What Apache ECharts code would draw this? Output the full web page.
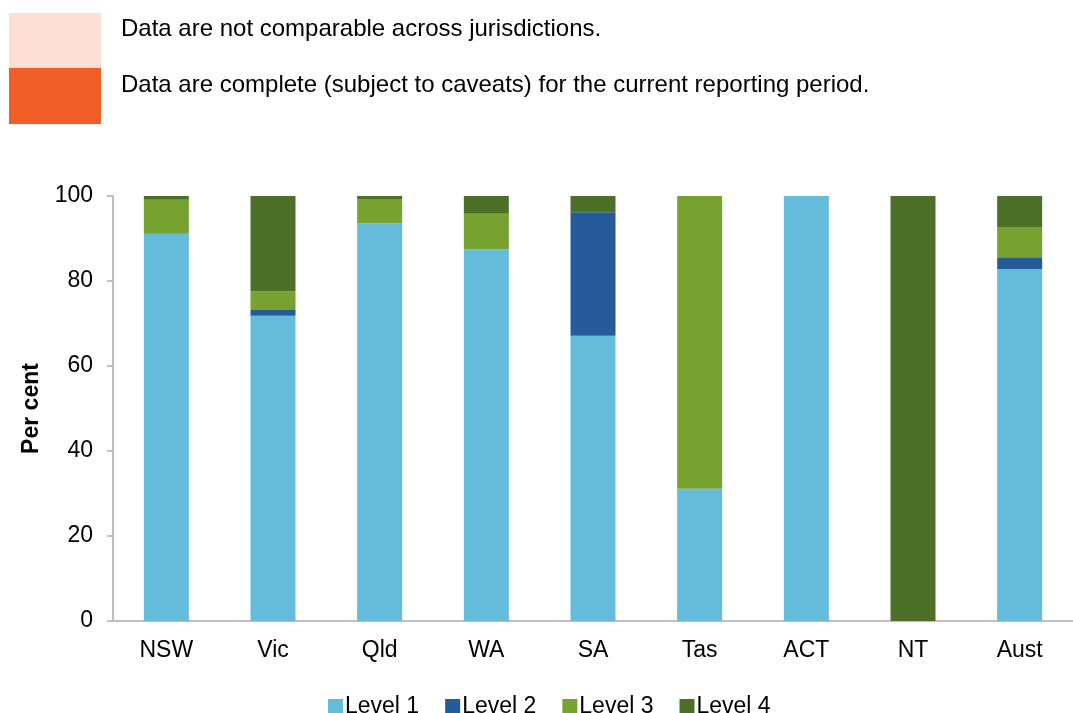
<!DOCTYPE html>
<html>
<head>
<meta charset="utf-8">
<script src="https://cdn.jsdelivr.net/npm/echarts@6/dist/echarts.min.js"></script>
<style>
html,body{margin:0;padding:0;background:#fff;}
#chart{width:1073px;height:713px;}
</style>
</head>
<body>
<div id="chart"></div>
<script>
var categories = ['NSW','Vic','Qld','WA','SA','Tas','ACT','NT','Aust'];
var level1 = [91.1, 71.8, 93.6, 87.5, 67.1, 31.1, 100, 0, 82.8];
var level2 = [0, 1.4, 0, 0, 29.1, 0, 0, 0, 2.8];
var level3 = [8.0, 4.4, 5.7, 8.3, 0, 68.9, 0, 0, 7.1];
var level4 = [0.9, 22.4, 0.7, 4.2, 3.8, 0, 0, 100, 7.3];
var yTicks = [0, 20, 40, 60, 80, 100];
var seriesNames = ['Level 1','Level 2','Level 3','Level 4'];
var noteTexts = ['Data are not comparable across jurisdictions.','Data are complete (subject to caveats) for the current reporting period.'];

var colors = ['#64BBDA','#265B9A','#78A22F','#4C7028'];
var font = 'Liberation Sans, Arial, sans-serif';
var chart = echarts.init(document.getElementById('chart'));
var data = [level1, level2, level3, level4];
var series = seriesNames.map(function(n,i){
  return {name:n,type:'bar',stack:'s',barWidth:45,data:data[i],
    itemStyle:{color:colors[i]},emphasis:{disabled:true}};
});
chart.setOption({
  animation:false,
  color:colors,
  grid:{left:113,top:196,bottom:92,width:970},
  xAxis:{type:'category',data:categories,
    axisLine:{show:true,lineStyle:{color:'#BFBFBF',width:2}},
    axisTick:{show:false},
    axisLabel:{color:'#000',fontSize:23,fontFamily:font,margin:18}},
  yAxis:{type:'value',min:yTicks[0],max:yTicks[yTicks.length-1],interval:20,
    name:'Per cent',nameLocation:'middle',nameGap:70,
    nameTextStyle:{color:'#000',fontSize:23,fontWeight:'bold',fontFamily:font},
    axisLine:{show:true,lineStyle:{color:'#BFBFBF',width:2}},
    axisTick:{show:true,length:6,lineStyle:{color:'#BFBFBF',width:2}},
    splitLine:{show:false},
    axisLabel:{color:'#000',fontSize:23,fontFamily:font,margin:20}},
  legend:{bottom:-10,left:323,itemWidth:15,itemHeight:15,itemGap:26,
    icon:'rect',data:seriesNames,
    textStyle:{color:'#000',fontSize:23,fontFamily:font,padding:[0,0,0,-3]}},
  graphic:[
    {type:'rect',left:9,top:13,shape:{width:92,height:55},style:{fill:'#FCDFD5'}},
    {type:'rect',left:9,top:68,shape:{width:92,height:56},style:{fill:'#F15D27'}},
    {type:'text',left:121,top:17,style:{text:noteTexts[0],fill:'#000',fontSize:24,fontFamily:font}},
    {type:'text',left:121,top:73,style:{text:noteTexts[1],fill:'#000',fontSize:24,fontFamily:font}}
  ],
  series:series
});
</script>
</body>
</html>
